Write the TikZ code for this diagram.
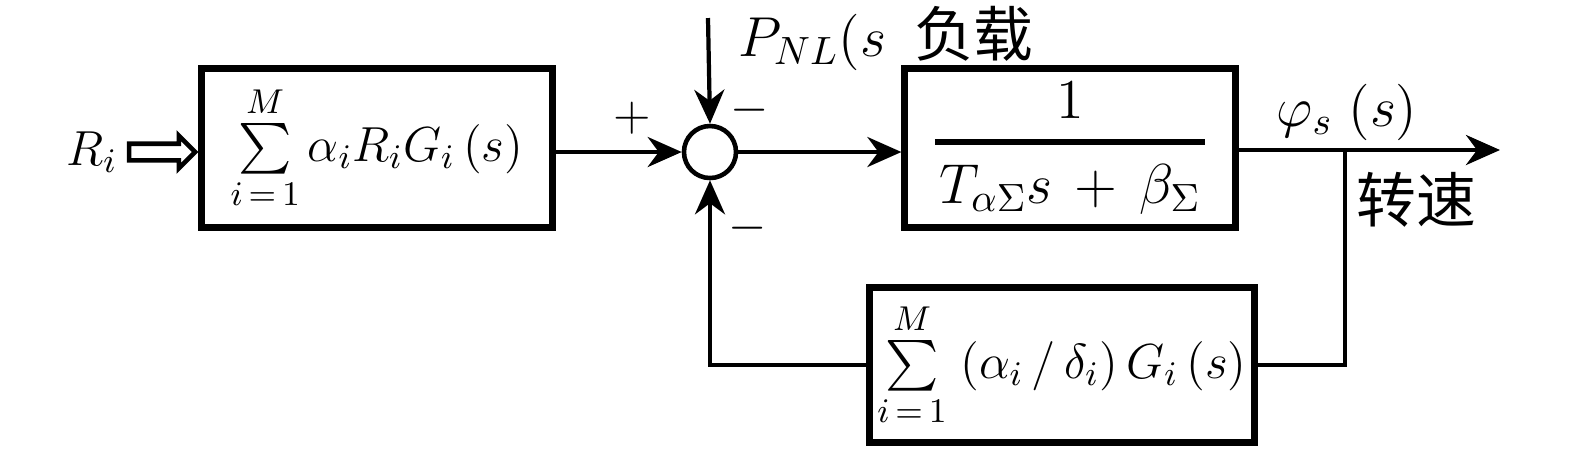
\RequirePackage{fix-cm}
\documentclass[tikz,border=0pt]{standalone}
\usepackage{amsmath}
\usepackage{fontspec}
\newfontfamily\cjk{Noto Sans CJK SC}
\usepackage{tikz}
\usetikzlibrary{positioning}
\usetikzlibrary{calc}
\usetikzlibrary{arrows.meta}
\usetikzlibrary{shapes.arrows}

\tikzset{
    block/.style={draw, line width=2pt, inner sep=0pt},
    sumnode/.style={circle, draw, line width=1.3pt, minimum size=0.52cm, inner sep=0pt},
    signal/.style={line width=1.2pt, -{Stealth[length=0.34cm, width=0.3cm]}},
    wire/.style={line width=1.2pt},
    txt/.style={inner sep=0pt, font=\fontsize{14}{17}\selectfont},
    bigtxt/.style={inner sep=0pt, font=\fontsize{16}{19}\selectfont},
}

\begin{document}
\begin{tikzpicture}[x=0.01cm, y=-0.01cm]
    \useasboundingbox (0,0) rectangle (1575,453);

    % forward path
    \node[txt] (Ri) at (92,152) {$R_i$};
    \node[block, txt, minimum width=3.5cm, minimum height=1.58cm] (gain) at (377,148)
        {$\sum\limits_{i\,=\,1}^{M}\alpha_iR_iG_i\,(s)$};
    \node[single arrow, draw, line width=1.3pt, minimum height=0.66cm,
          single arrow head extend=0.08cm, minimum width=0.3cm, inner sep=0.06cm,
          anchor=tip] (inarrow) at (gain.west |- Ri) {};
    \node[sumnode] (sum) at (710,152) {};
    \node[block, bigtxt, minimum width=3.3cm, minimum height=1.58cm] (plant) at (1070,148)
        {$\genfrac{}{}{1.8pt}{0}{\makebox[2.7cm]{$\displaystyle 1$}}{T_{\alpha\Sigma}s\,+\,\beta_{\Sigma}}$};
    \node[block, txt, minimum width=3.85cm, minimum height=1.55cm] (fb) at (1062,365)
        {$\sum\limits_{i\,=\,1}^{M}\;(\alpha_i\,/\,\delta_i)\,G_i\,(s)$};

    \coordinate (load) at (708,18);
    \coordinate (out) at (1500,150);
    \coordinate (branch) at (1345,150);

    \draw[signal] (gain.east |- sum) -- (sum);
    \draw[signal] (load) -- (sum.north);
    \draw[signal] (sum) -- (plant.west |- sum);
    \draw[signal] (plant.east |- out) -- (out);
    \draw[wire] (branch) |- (fb.east);
    \draw[signal] (fb.west) -| (sum.south);

    % labels
    \node[bigtxt, anchor=west] (Pload) at (738,38) {$P_{NL}(s$\hspace{0.28cm}{\fontsize{17}{20}\selectfont\cjk 负载}};
    \node[txt] (plus) at (632,118) {$+$};
    \node[txt] (minus1) at (750,110) {$-$};
    \node[txt] (minus2) at (748,228) {$-$};
    \node[bigtxt] (phi) at (1347,112) {$\varphi_s\;(s)$};
    \node[bigtxt, anchor=west, font=\fontsize{17}{20}\selectfont] (speed) at (1356,200) {\cjk 转速};
\end{tikzpicture}
\end{document}
